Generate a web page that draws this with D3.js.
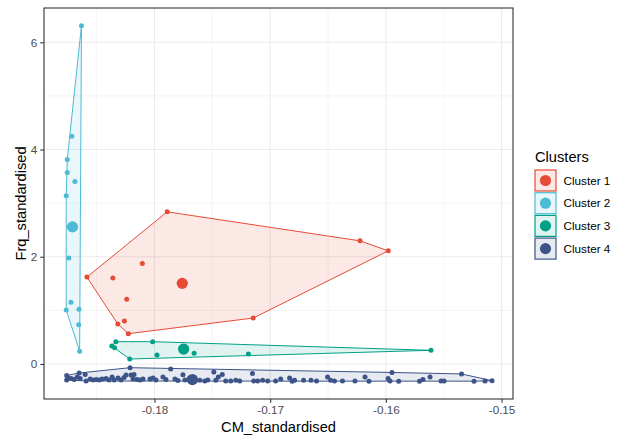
<!DOCTYPE html>
<html>
<head>
<meta charset="utf-8">
<script src="https://cdn.jsdelivr.net/npm/d3@7"></script>
<style>
html,body{margin:0;padding:0;background:#fff;}
svg{display:block;font-family:"Liberation Sans",Arial,sans-serif;}
</style>
</head>
<body>
<div id="chart"></div>
<script>
// ---- data ----
const clusterNames = ["Cluster 1", "Cluster 2", "Cluster 3", "Cluster 4"];
const clusterColors = ["#E64B35", "#4DBBD5", "#00A087", "#3C5488"];

const cluster1 = [
  [-0.17890, 2.838], [-0.16223, 2.297], [-0.15979, 2.111], [-0.17146, 0.857],
  [-0.18226, 0.565], [-0.18317, 0.745], [-0.18260, 0.801], [-0.18584, 1.621],
  [-0.18360, 1.602], [-0.18105, 1.876], [-0.18240, 1.206]
];
const cluster2 = [
  [-0.18631, 6.309], [-0.18714, 4.250], [-0.18754, 3.814], [-0.18754, 3.572],
  [-0.18688, 3.404], [-0.18763, 3.136], [-0.18740, 1.975], [-0.18722, 1.150],
  [-0.18763, 1.006], [-0.18653, 1.019], [-0.18655, 0.730], [-0.18647, 0.238]
];
const cluster3 = [
  [-0.18369, 0.335], [-0.18345, 0.305], [-0.18334, 0.416], [-0.18214, 0.093],
  [-0.18016, 0.416], [-0.17978, 0.168], [-0.17657, 0.199], [-0.17188, 0.186],
  [-0.15610, 0.255]
];
const cluster4 = [
  [-0.18759, -0.214], [-0.18759, -0.298], [-0.18746, -0.261], [-0.18720, -0.270],
  [-0.18694, -0.289], [-0.18668, -0.242], [-0.18651, -0.168], [-0.18642, -0.270],
  [-0.18599, -0.196], [-0.18591, -0.317], [-0.18556, -0.279], [-0.18530, -0.298],
  [-0.18504, -0.289], [-0.18478, -0.298], [-0.18453, -0.279], [-0.18418, -0.270],
  [-0.18392, -0.298], [-0.18366, -0.242], [-0.18349, -0.298], [-0.18315, -0.261],
  [-0.18289, -0.298], [-0.18263, -0.252], [-0.18246, -0.205], [-0.18211, -0.069],
  [-0.18203, -0.205], [-0.18177, -0.196], [-0.18185, -0.279], [-0.18151, -0.289],
  [-0.18125, -0.298], [-0.18099, -0.279], [-0.18039, -0.279], [-0.18013, -0.261],
  [-0.17987, -0.298], [-0.17927, -0.242], [-0.17901, -0.289], [-0.17860, -0.093],
  [-0.17823, -0.279], [-0.17797, -0.307], [-0.17754, -0.199], [-0.17737, -0.298],
  [-0.17698, -0.270], [-0.17651, -0.317], [-0.17608, -0.304], [-0.17565, -0.317],
  [-0.17539, -0.298], [-0.17487, -0.149], [-0.17470, -0.304], [-0.17448, -0.242],
  [-0.17414, -0.196], [-0.17384, -0.317], [-0.17341, -0.317], [-0.17297, -0.304],
  [-0.17263, -0.317], [-0.17153, -0.177], [-0.17142, -0.317], [-0.17108, -0.317],
  [-0.17065, -0.304], [-0.17022, -0.317], [-0.16953, -0.317], [-0.16909, -0.279],
  [-0.16832, -0.261], [-0.16810, -0.320], [-0.16789, -0.304], [-0.16711, -0.304],
  [-0.16647, -0.304], [-0.16599, -0.317], [-0.16504, -0.242], [-0.16478, -0.304],
  [-0.16444, -0.317], [-0.16375, -0.317], [-0.16267, -0.317], [-0.16180, -0.242],
  [-0.16146, -0.320], [-0.15981, -0.270], [-0.15964, -0.317], [-0.15947, -0.158],
  [-0.15889, -0.320], [-0.15709, -0.320], [-0.15679, -0.289], [-0.15618, -0.242],
  [-0.15523, -0.317], [-0.15497, -0.317], [-0.15346, -0.186], [-0.15238, -0.320],
  [-0.15143, -0.317], [-0.15082, -0.311]
];
const clusterCenters = [
  [-0.17760, 1.504], [-0.18709, 2.558], [-0.17748, 0.279], [-0.17672, -0.290]
];
const xTicks = [-0.18, -0.17, -0.16, -0.15];
const xMinorTicks = [-0.185, -0.175, -0.165, -0.155];
const yTicks = [0, 2, 4, 6];
const yMinorTicks = [1, 3, 5];
const xDomain = [-0.18955, -0.14901];
const yDomain = [-0.653, 6.640];

// ---- layout ----
const W = 617, H = 440;
const panel = {left: 44, top: 8, right: 513, bottom: 399};
const clusters = [cluster1, cluster2, cluster3, cluster4];

const svg = d3.select("#chart").append("svg")
  .attr("width", W).attr("height", H);

const x = d3.scaleLinear().domain(xDomain).range([panel.left, panel.right]);
const y = d3.scaleLinear().domain(yDomain).range([panel.bottom, panel.top]);

// grid
const grid = svg.append("g");
grid.selectAll("line.xminor").data(xMinorTicks).join("line")
  .attr("x1", d => x(d)).attr("x2", d => x(d))
  .attr("y1", panel.top).attr("y2", panel.bottom)
  .attr("stroke", "#EBEBEB").attr("stroke-width", 0.55);
grid.selectAll("line.yminor").data(yMinorTicks).join("line")
  .attr("y1", d => y(d)).attr("y2", d => y(d))
  .attr("x1", panel.left).attr("x2", panel.right)
  .attr("stroke", "#EBEBEB").attr("stroke-width", 0.55);
grid.selectAll("line.xmajor").data(xTicks).join("line")
  .attr("x1", d => x(d)).attr("x2", d => x(d))
  .attr("y1", panel.top).attr("y2", panel.bottom)
  .attr("stroke", "#EBEBEB").attr("stroke-width", 1.1);
grid.selectAll("line.ymajor").data(yTicks).join("line")
  .attr("y1", d => y(d)).attr("y2", d => y(d))
  .attr("x1", panel.left).attr("x2", panel.right)
  .attr("stroke", "#EBEBEB").attr("stroke-width", 1.1);

// hulls
const fillAlpha = 0.12;
const hullG = svg.append("g");
clusters.forEach((pts, i) => {
  const hull = d3.polygonHull(pts.map(p => [x(p[0]), y(p[1])]));
  hullG.append("path")
    .attr("d", "M" + hull.map(p => p.join(",")).join("L") + "Z")
    .attr("fill", clusterColors[i]).attr("fill-opacity", fillAlpha)
    .attr("stroke", clusterColors[i]).attr("stroke-width", 1)
    .attr("stroke-linejoin", "round");
});

// points
const ptG = svg.append("g");
clusters.forEach((pts, i) => {
  ptG.selectAll(null).data(pts).join("circle")
    .attr("cx", d => x(d[0])).attr("cy", d => y(d[1]))
    .attr("r", 2.5).attr("fill", clusterColors[i]);
});
// centers
ptG.selectAll(null).data(clusterCenters).join("circle")
  .attr("cx", d => x(d[0])).attr("cy", d => y(d[1]))
  .attr("r", 5.6).attr("fill", (d, i) => clusterColors[i]);

// panel border
svg.append("rect")
  .attr("x", panel.left).attr("y", panel.top)
  .attr("width", panel.right - panel.left).attr("height", panel.bottom - panel.top)
  .attr("fill", "none").attr("stroke", "#333333").attr("stroke-width", 1.1);

// axes
const xAxis = svg.append("g")
  .attr("transform", `translate(0,${panel.bottom})`)
  .call(d3.axisBottom(x).tickValues(xTicks).tickSize(3.7).tickPadding(3)
    .tickFormat(d => d3.format(".2f")(d).replace("−", "-")));
const yAxis = svg.append("g")
  .attr("transform", `translate(${panel.left},0)`)
  .call(d3.axisLeft(y).tickValues(yTicks).tickSize(3.7).tickPadding(3)
    .tickFormat(d3.format("d")));
[xAxis, yAxis].forEach(a => {
  a.select(".domain").remove();
  a.selectAll(".tick line").attr("stroke", "#333333").attr("stroke-width", 1.1);
  a.selectAll(".tick text").attr("fill", "#4D4D4D")
    .style("font-size", "11.7px").style("font-family", '"Liberation Sans",Arial,sans-serif');
});

// axis titles
svg.append("text")
  .attr("x", (panel.left + panel.right) / 2).attr("y", 432)
  .attr("text-anchor", "middle").attr("fill", "#000")
  .style("font-size", "14.67px").text("CM_standardised");
svg.append("text")
  .attr("transform", `translate(26,${(panel.top + panel.bottom) / 2}) rotate(-90)`)
  .attr("text-anchor", "middle").attr("fill", "#000")
  .style("font-size", "14.67px").text("Frq_standardised");

// legend
const lg = svg.append("g");
lg.append("text").attr("x", 535).attr("y", 162).attr("fill", "#000")
  .style("font-size", "14.67px").text("Clusters");
const keyTop = 170, keyStep = 22.7, keySize = 21;
clusterNames.forEach((name, i) => {
  const ky = keyTop + i * keyStep;
  lg.append("rect").attr("x", 535).attr("y", ky)
    .attr("width", keySize).attr("height", keySize)
    .attr("fill", clusterColors[i]).attr("fill-opacity", fillAlpha)
    .attr("stroke", clusterColors[i]).attr("stroke-width", 1.2);
  lg.append("circle").attr("cx", 535 + keySize / 2).attr("cy", ky + keySize / 2)
    .attr("r", 5.6).attr("fill", clusterColors[i]);
  lg.append("text").attr("x", 563.5).attr("y", ky + keySize / 2 + 4.2)
    .attr("fill", "#000").style("font-size", "11.73px").text(name);
});
</script>
</body>
</html>
